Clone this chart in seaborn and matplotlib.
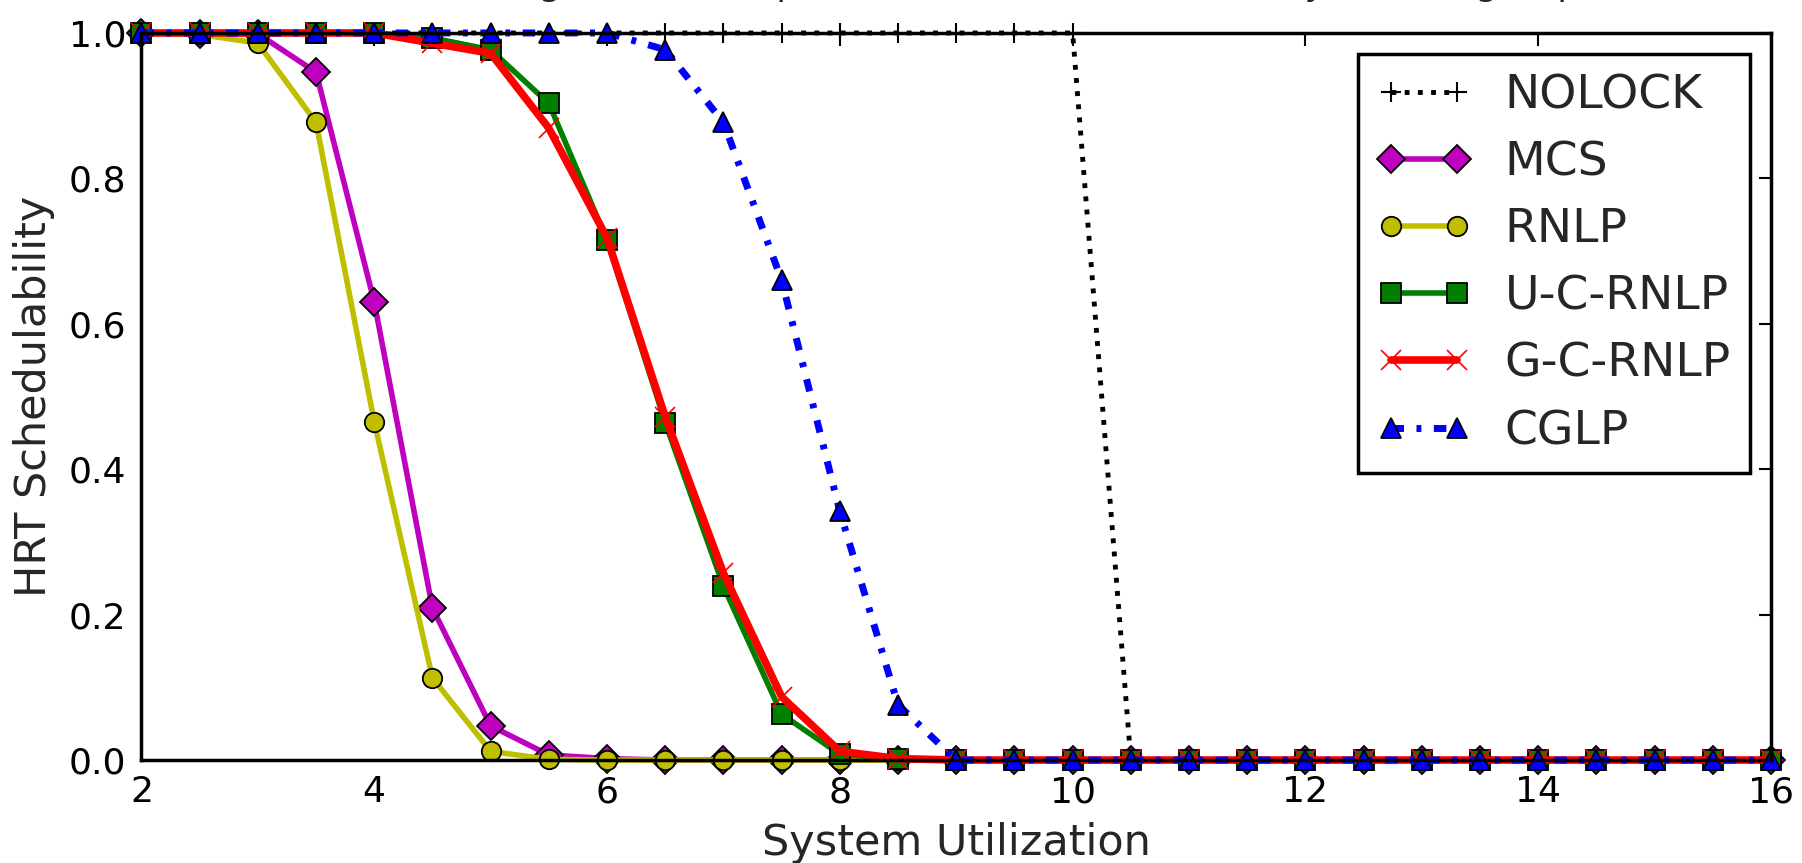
import matplotlib
matplotlib.use("Agg")
import matplotlib.pyplot as plt
import seaborn as sns
import numpy as np
import pandas as pd

# ---- data ----
utilization = [2.0, 2.5, 3.0, 3.5, 4.0, 4.5, 5.0, 5.5, 6.0, 6.5, 7.0, 7.5, 8.0, 8.5,
               9.0, 9.5, 10.0, 10.5, 11.0, 11.5, 12.0, 12.5, 13.0, 13.5, 14.0, 14.5,
               15.0, 15.5, 16.0]
nolock = [1.0, 1.0, 1.0, 1.0, 1.0, 1.0, 1.0, 1.0, 1.0, 1.0, 1.0, 1.0, 1.0, 1.0,
          1.0, 1.0, 1.0, 0.0, 0.0, 0.0, 0.0, 0.0, 0.0, 0.0, 0.0, 0.0, 0.0, 0.0, 0.0]
mcs = [1.0, 0.999, 0.999, 0.946, 0.630, 0.209, 0.047, 0.007, 0.002, 0.0, 0.0, 0.0, 0.0, 0.0,
       0.0, 0.0, 0.0, 0.0, 0.0, 0.0, 0.0, 0.0, 0.0, 0.0, 0.0, 0.0, 0.0, 0.0, 0.0]
rnlp = [1.0, 0.998, 0.986, 0.877, 0.465, 0.113, 0.012, 0.001, 0.0, 0.0, 0.0, 0.0, 0.0, 0.0,
        0.0, 0.0, 0.0, 0.0, 0.0, 0.0, 0.0, 0.0, 0.0, 0.0, 0.0, 0.0, 0.0, 0.0, 0.0]
u_c_rnlp = [1.0, 1.0, 1.0, 1.0, 1.0, 0.993, 0.977, 0.903, 0.715, 0.464, 0.239, 0.063, 0.008, 0.001,
            0.0, 0.0, 0.0, 0.0, 0.0, 0.0, 0.0, 0.0, 0.0, 0.0, 0.0, 0.0, 0.0, 0.0, 0.0]
g_c_rnlp = [1.0, 1.0, 1.0, 1.0, 1.0, 0.986, 0.972, 0.869, 0.718, 0.472, 0.257, 0.087, 0.012, 0.002,
            0.0, 0.0, 0.0, 0.0, 0.0, 0.0, 0.0, 0.0, 0.0, 0.0, 0.0, 0.0, 0.0, 0.0, 0.0]
cglp = [1.0, 1.0, 1.0, 1.0, 1.0, 1.0, 1.0, 1.0, 1.0, 0.977, 0.877, 0.660, 0.342, 0.076,
        0.0, 0.0, 0.0, 0.0, 0.0, 0.0, 0.0, 0.0, 0.0, 0.0, 0.0, 0.0, 0.0, 0.0, 0.0]

series_names = ["NOLOCK", "MCS", "RNLP", "U-C-RNLP", "G-C-RNLP", "CGLP"]
series_values = [nolock, mcs, rnlp, u_c_rnlp, g_c_rnlp, cglp]

x_ticks = [2, 4, 6, 8, 10, 12, 14, 16]
y_ticks = [0.0, 0.2, 0.4, 0.6, 0.8, 1.0]
title_text = "CS length [10, 100]\u03bcs, nested access ratio: heavy 10%, 1 group"

# ---- style ----
sns.set_style("white")
plt.rcParams['font.family'] = ['DejaVu Sans']
plt.rcParams['lines.scale_dashes'] = False

styles = {
    "NOLOCK":   dict(color="k", marker="+", linestyle=(0, (3.5, 6.0)), lw=3.5, ms=15, mec="k", mew=1.5),
    "MCS":      dict(color="#bf00bf", marker="D", linestyle="-", lw=4, ms=14, mec="k", mew=1.3),
    "RNLP":     dict(color="#bfbf00", marker="o", linestyle="-", lw=4, ms=14, mec="k", mew=1.3),
    "U-C-RNLP": dict(color="#007f00", marker="s", linestyle="-", lw=4, ms=14, mec="k", mew=1.3),
    "G-C-RNLP": dict(color="#ff0000", marker="x", linestyle="-", lw=5.5, ms=15, mec="#ff0000", mew=1.2),
    "CGLP":     dict(color="#0000ff", marker="^", linestyle=(0, (9.0, 9.0, 3.5, 9.0)), lw=5, ms=14, mec="k", mew=1.3),
}

df = pd.DataFrame({"util": utilization})
for name, vals in zip(series_names, series_values):
    df[name] = vals

fig = plt.figure(figsize=(18.02, 8.63), dpi=100)
ax = fig.add_subplot(111)
fig.subplots_adjust(left=0.0785, right=0.9828, top=0.9618, bottom=0.1193)

for name in series_names:
    st = styles[name]
    sns.lineplot(data=df, x="util", y=name, ax=ax, label=name, errorbar=None,
                 color=st["color"], marker=st["marker"], linestyle=st["linestyle"],
                 linewidth=st["lw"], markersize=st["ms"], markeredgecolor=st["mec"],
                 markeredgewidth=st["mew"], clip_on=False, zorder=3)

ax.set_xlim(2, 16)
ax.set_ylim(0, 1.0)
ax.set_xticks(x_ticks)
ax.set_xticklabels([str(t) for t in x_ticks])
ax.set_yticks(y_ticks)
ax.set_yticklabels([f"{t:.1f}" for t in y_ticks])
ax.tick_params(axis="both", which="major", direction="in", length=9, width=1.5,
               labelsize=26, top=True, right=True, pad=11, colors="k")
for sp in ax.spines.values():
    sp.set_linewidth(2.5)
    sp.set_color("k")
    sp.set_zorder(10)

ax.set_xlabel("System Utilization", fontsize=31, labelpad=9)
ax.set_ylabel("HRT Schedulability", fontsize=31, labelpad=10)

leg = ax.legend(loc="upper right", numpoints=2, fontsize=34, fancybox=False,
                framealpha=1, edgecolor="k", handlelength=2.0, handletextpad=0.7,
                borderpad=0.4, labelspacing=0.47, borderaxespad=0.45)
leg.get_frame().set_linewidth(2.5)
leg.set_zorder(20)

fig.text(424 / 1802, 1 + 4.5 / 863, title_text, fontsize=26, ha="left", va="baseline")

fig.savefig("out.png", dpi=100, facecolor="white")
